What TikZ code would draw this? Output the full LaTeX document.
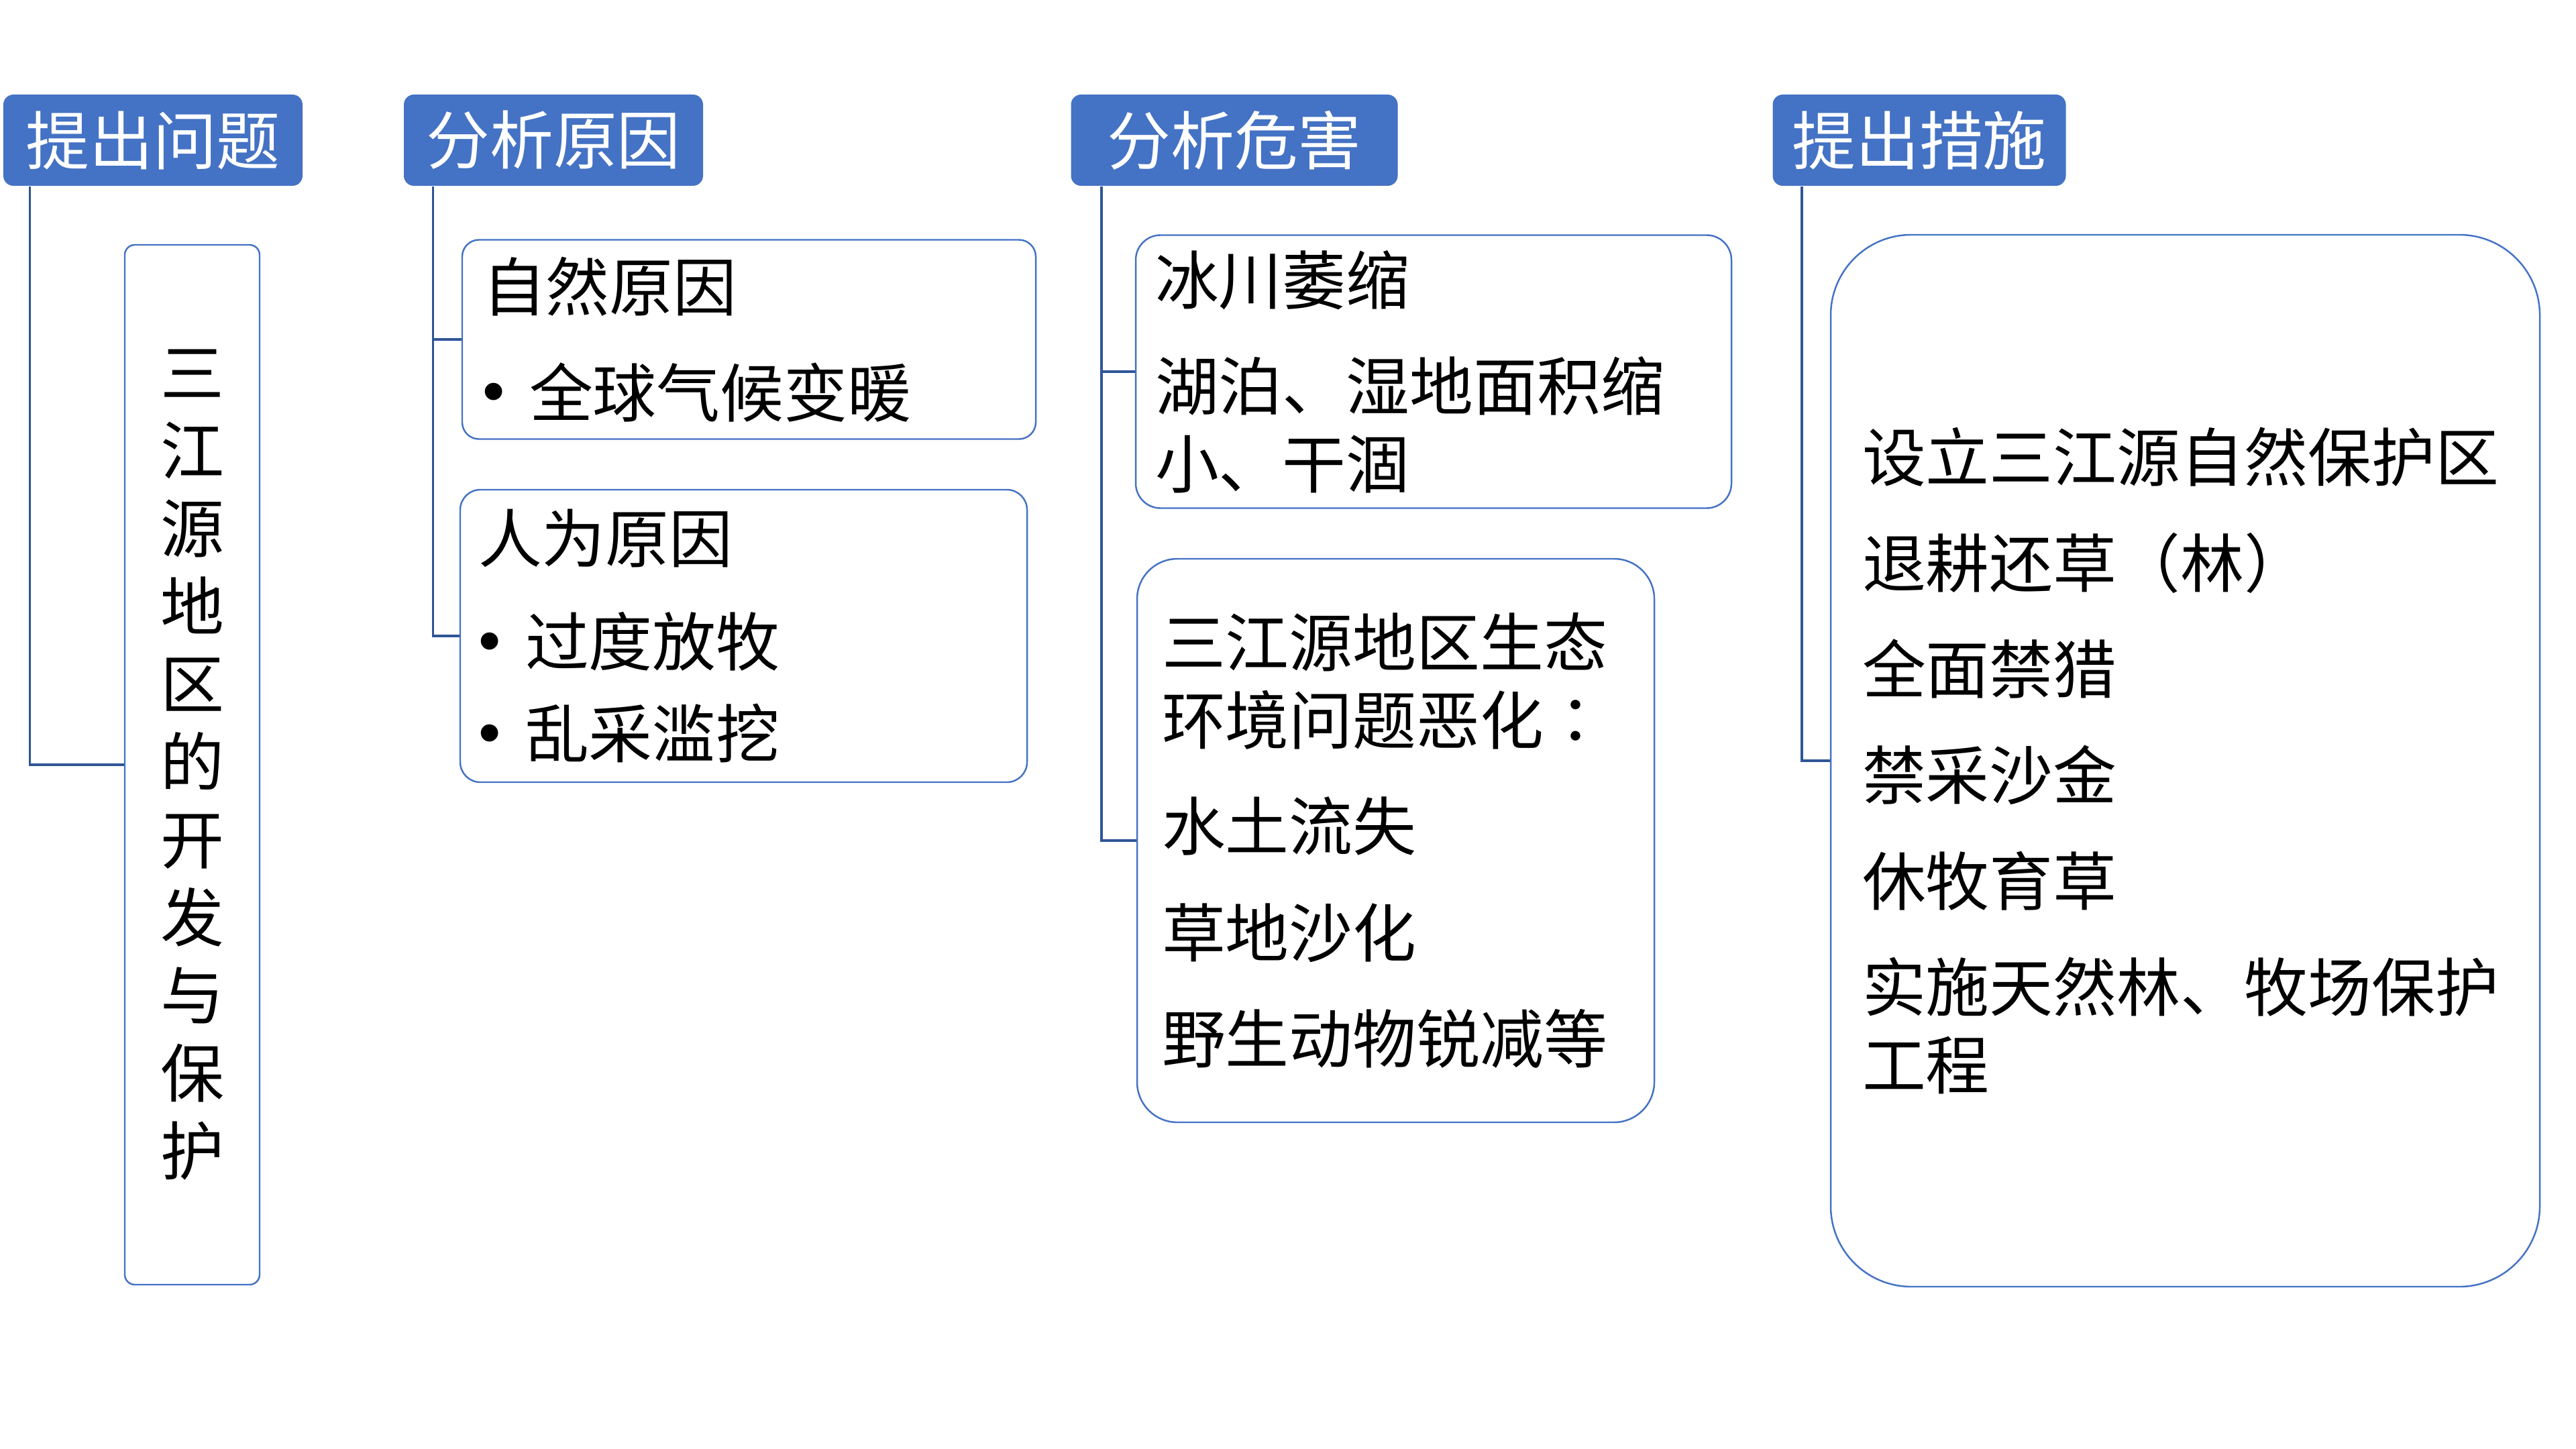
\documentclass[tikz,border=0pt]{standalone}
\usepackage{fontspec}
\newfontfamily\cjk{Noto Sans CJK SC}
\newfontfamily\cjktc{Noto Sans CJK TC}
\newfontfamily\dotfont{Liberation Sans}
\definecolor{hdblue}{HTML}{4472C4}
\definecolor{lnblue}{HTML}{2F5597}
\newcommand\dotitem{\makebox[0.70cm][l]{\dotfont\raisebox{0.06em}{•}}}
\tikzset{
  hd/.style={fill=hdblue, rounded corners=0.15cm, text=white, minimum height=1.36cm,
             inner sep=0pt, font=\cjk\fontsize{27}{33}\selectfont},
  bx/.style={draw=hdblue, line width=0.7pt, align=left, inner ysep=0pt,
             font=\cjk\fontsize{27}{33}\selectfont},
  ln/.style={draw=lnblue, line width=1pt},
}
\begin{document}
\begin{tikzpicture}
\useasboundingbox (0,0) rectangle (38.4,-21.6);
% 标题
\node[hd, minimum width=4.46cm] (h1) at (2.28,-2.09) {提出问题};
\node[hd, minimum width=4.46cm] (h2) at (8.25,-2.09) {分析原因};
\node[hd, minimum width=4.87cm] (h3) at (18.40,-2.09) {分析危害};
\node[hd, minimum width=4.37cm] (h4) at (28.61,-2.09) {提出措施};

% 内容框
\node[bx, align=center, rounded corners=0.15cm, minimum width=2.01cm, minimum height=15.5cm]
  (topic) at (2.865,-11.40) {三\\江\\源\\地\\区\\的\\开\\发\\与\\保\\护};
\node[bx, rounded corners=0.25cm, inner xsep=0.30cm, text width=7.95cm, minimum height=2.97cm]
  (natural) at (11.165,-5.06) {自然原因\\[12pt]\dotitem 全球气候变暖};
\node[bx, rounded corners=0.3cm, inner xsep=0.27cm, text width=7.91cm, minimum height=4.36cm]
  (human) at (11.085,-9.48) {人为原因\\[11pt]\dotitem 过度放牧\\[6pt]\dotitem 乱采滥挖};
\node[bx, rounded corners=0.37cm, inner xsep=0.29cm, text width=8.30cm, minimum height=4.07cm]
  (glacier) at (21.37,-5.54) {冰川萎缩\\[12pt]湖泊、湿地面积缩\\小、干涸};
\node[bx, rounded corners=0.6cm, inner xsep=0.37cm, text width=6.97cm, minimum height=8.4cm]
  (ecology) at (20.805,-12.53)
  {三江源地区生态\\环境问题恶化{\cjktc ：}\\[12pt]水土流失\\[12pt]草地沙化\\[12pt]野生动物锐减等};
\node[bx, rounded corners=1.2cm, inner xsep=0.47cm, text width=9.63cm, minimum height=15.68cm]
  (measure) at (32.575,-11.34)
  {设立三江源自然保护区\\[12pt]退耕还草（林）\\[12pt]全面禁猎\\[12pt]禁采沙金\\[12pt]休牧育草\\[12pt]实施天然林、牧场保护\\工程};

% 连线
\draw[ln] ([xshift=0.40cm]h1.south west) |- (topic.west);
\draw[ln] ([xshift=0.44cm]h2.south west) |- (natural.west);
\draw[ln] ([xshift=0.44cm]h2.south west) |- (human.west);
\draw[ln] ([xshift=0.46cm]h3.south west) |- (glacier.west);
\draw[ln] ([xshift=0.46cm]h3.south west) |- (ecology.west);
\draw[ln] ([xshift=0.44cm]h4.south west) |- (measure.west);
\end{tikzpicture}
\end{document}
